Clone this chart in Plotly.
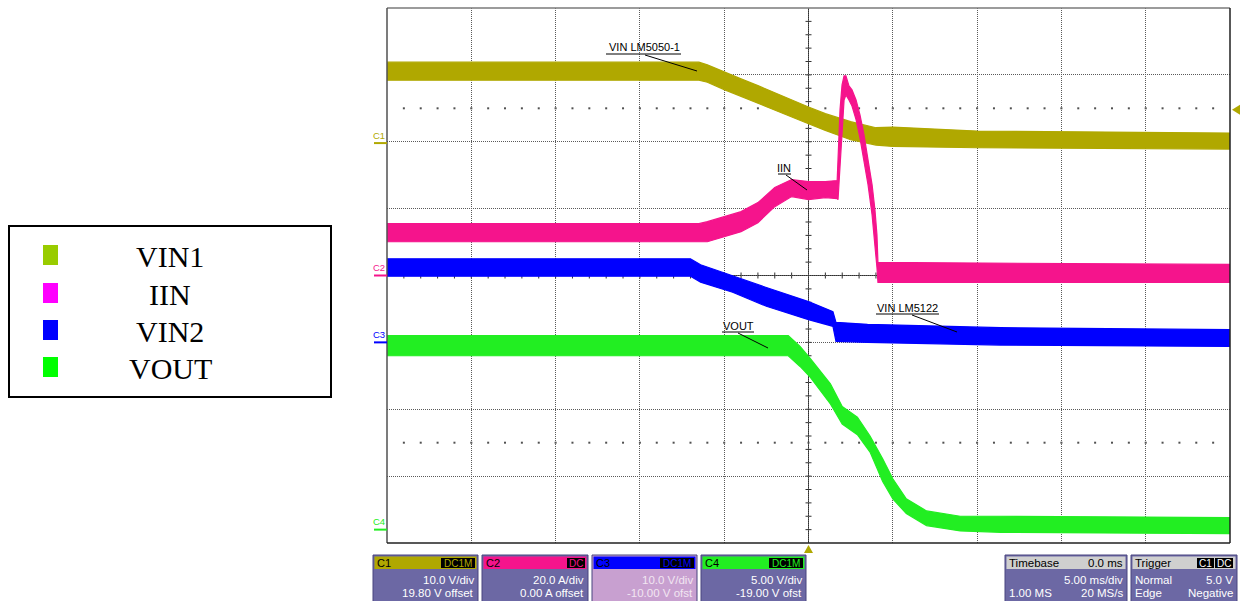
import plotly.graph_objects as go

# ---------------- data ----------------
# time in ms relative to the trigger (5 ms/div); each trace is an envelope band (hi / lo)
vin1_t  = [-25, -6.5, -6.0, -5.0, -4.0, -3.0, -2.0, -1.0, 0.0, 1.0, 1.7, 2.5, 4.0, 5.0, 10.0, 25]
vin1_hi = [12.1, 12.1, 11.7, 10.6, 9.6, 8.6, 7.5, 6.5, 5.4, 4.4, 3.8, 3.2, 2.3, 2.4, 1.8, 1.5]
vin1_lo = [9.4, 9.4, 9.1, 8.0, 7.0, 6.0, 4.9, 3.9, 2.9, 1.9, 1.2, 0.5, -0.3, -0.5, -0.7, -0.9]

iin_t  = [-25, -6.5, -6.0, -5.0, -4.0, -3.0, -2.0, -1.0, 0.0, 1.0, 1.7, 1.75, 1.87, 1.99, 2.11,
          2.22, 2.40, 2.58, 2.82, 3.05, 3.29, 3.53, 3.77, 3.94, 4.06, 4.12, 25]
iin_hi = [15.5, 15.5, 16.1, 17.6, 19.1, 21.8, 26.3, 28.7, 28.1, 28.1, 28.4, 34.6, 49.6, 57.0, 59.7,
          59.7, 56.7, 55.5, 52.5, 48.1, 42.1, 34.6, 27.2, 19.7, 12.2, 3.9, 3.3]
iin_lo = [10.1, 10.1, 10.1, 11.6, 13.1, 15.8, 20.6, 23.6, 22.7, 23.3, 23.0, 22.7, 31.6, 43.6, 52.5,
          54.0, 52.5, 50.7, 46.6, 41.2, 34.6, 27.2, 18.2, 9.3, 2.4, -2.1, -2.1]

vin2_t  = [-25, -7.0, -6.4, -4.5, -2.5, 0.0, 1.45, 1.63, 3.5, 11.4, 25]
vin2_hi = [12.5, 12.5, 11.6, 9.9, 8.2, 6.1, 4.6, 3.0, 2.7, 2.2, 1.9]
vin2_lo = [9.9, 9.9, 9.0, 7.5, 5.4, 3.4, 2.4, 0.15, 0.0, -0.4, -0.6]

vout_t  = [-25, -1.2, -0.5, 0.1, 1.3, 2.0, 2.9, 3.65, 4.4, 5.0, 5.8, 7.0, 9.0, 11.4, 25]
vout_hi = [14.5, 14.5, 13.7, 12.8, 10.9, 9.2, 8.4, 7.0, 5.3, 3.8, 2.3, 1.4, 1.0, 1.0, 0.9]
vout_lo = [13.0, 13.0, 12.2, 11.4, 9.4, 7.9, 7.1, 5.8, 3.6, 2.3, 1.2, 0.3, -0.1, -0.2, -0.3]

channels      = ["C1", "C2", "C3", "C4"]
ch_scale      = [10.0, 20.0, 10.0, 5.0]          # units / division
ch_offset     = [19.80, 0.00, -10.00, -19.00]
ch_scale_txt  = ["10.0 V/div", "20.0 A/div", "10.0 V/div", "5.00 V/div"]
ch_offset_txt = ["19.80 V offset", "0.00 A offset", "-10.00 V ofst", "-19.00 V ofst"]
ch_coupling   = ["DC1M", "DC", "DC1M", "DC1M"]
legend_names  = ["VIN1", "IIN", "VIN2", "VOUT"]
trace_labels  = ["VIN LM5050-1", "IIN", "VIN LM5122", "VOUT"]
timebase_txt  = ["Timebase", "0.0 ms", "5.00 ms/div", "1.00 MS", "20 MS/s"]
trigger_txt   = ["Trigger", "Normal", "5.0 V", "Edge", "Negative"]
trigger_src   = ["C1", "DC"]
ms_per_div    = 5.0
trigger_level = 5.0   # V on C1

series = [(vin1_t, vin1_hi, vin1_lo), (iin_t, iin_hi, iin_lo),
          (vin2_t, vin2_hi, vin2_lo), (vout_t, vout_hi, vout_lo)]

# ---------------- styling ----------------
trace_colors  = ["#B0A800", "#F5148C", "#0000FF", "#22EE22"]
legend_colors = ["#99CC00", "#FF00FF", "#0000FF", "#00FF00"]
body_col = "#6C68A4"
edge_col = "#48447E"

W, H = 1242, 601
L, R, T, B = 387, 1230, 8, 543


def px(x):
    return (x - L) / (R - L)


def py(y):
    return (B - y) / (B - T)


shapes, annos = [], []


def line(x0, y0, x1, y1, color, width=1, dash=None, layer="above"):
    d = dict(color=color, width=width)
    if dash:
        d["dash"] = dash
    shapes.append(dict(type="line", xref="paper", yref="paper", x0=px(x0), y0=py(y0),
                       x1=px(x1), y1=py(y1), line=d, layer=layer))


def rect(x0, y0, x1, y1, fill, lc=None, lw=0, layer="above"):
    shapes.append(dict(type="rect", xref="paper", yref="paper", x0=px(x0), y0=py(y0),
                       x1=px(x1), y1=py(y1), fillcolor=fill,
                       line=dict(color=lc or fill, width=lw), layer=layer))


def poly(pts, fill):
    path = "M " + " L ".join(f"{px(a):.5f},{py(b):.5f}" for a, b in pts) + " Z"
    shapes.append(dict(type="path", xref="paper", yref="paper", path=path,
                       fillcolor=fill, line=dict(color=fill, width=0), layer="above"))


def text(x, y, s, size, color, anchor="center", family="Liberation Sans, Arial"):
    annos.append(dict(xref="paper", yref="paper", x=px(x), y=py(y), text=s, showarrow=False,
                      xanchor=anchor, yanchor="middle", borderpad=0,
                      font=dict(size=size, color=color, family=family)))


fig = go.Figure()

# minor dot rows (±2.5 div) on the C1 scale
dot_x, dot_y = [], []
for k in range(-24, 25):
    for d in (2.5, -2.5):
        dot_x.append(k * ms_per_div / 5)
        dot_y.append(d * ch_scale[0] - ch_offset[0])
fig.add_trace(go.Scatter(x=dot_x, y=dot_y, mode="markers", yaxis="y",
                         marker=dict(size=2, color="#505050", symbol="square"),
                         hoverinfo="skip", showlegend=False))

yaxes = ["y", "y2", "y3", "y4"]
for i, (t, hi, lo) in enumerate(series):
    fig.add_trace(go.Scatter(x=list(t) + list(t)[::-1], y=list(hi) + list(lo)[::-1],
                             mode="lines", fill="toself", fillcolor=trace_colors[i],
                             line=dict(color=trace_colors[i], width=1.2),
                             yaxis=yaxes[i], name=legend_names[i],
                             hoverinfo="skip", showlegend=False))

# centre cross and its ticks
line(L + (R - L) / 2, T, L + (R - L) / 2, B, "#303030", 1, layer="between")
line(L, (T + B) / 2, R, (T + B) / 2, "#303030", 1, layer="between")
cx, cy = L + (R - L) / 2, (T + B) / 2
for k in range(-24, 25):
    if k == 0:
        continue
    xx = cx + k * (R - L) / 50
    line(xx, cy - 3, xx, cy + 3, "#303030", 1, layer="between")
for j in range(-19, 20):
    if j == 0:
        continue
    yy = cy + j * (B - T) / 40
    line(cx - 3, yy, cx + 3, yy, "#303030", 1, layer="between")

# frame
line(L, T, R, T, "#7A7A7A", 1.5)
line(L, T, L, B, "#505050", 1.5)
line(R, T, R, B, "#202020", 1.5)
line(L, B, R, B, "#202020", 1.5)

# channel ground markers
for i in range(4):
    ground_div = ch_offset[i] / ch_scale[i]
    yy = cy - ground_div * (B - T) / 8
    line(374, yy, L, yy, trace_colors[i], 2)
    text(379, yy - 8, channels[i], 9.5, trace_colors[i])

# trigger markers
trig_div = (trigger_level + ch_offset[0]) / ch_scale[0]
ty = cy - trig_div * (B - T) / 8
poly([(1232, ty), (1240, ty - 5), (1240, ty + 5)], trace_colors[0])
poly([(cx, 545), (cx - 4.5, 553), (cx + 4.5, 553)], trace_colors[0])

# trace labels with underline and leader
lab_geo = [((644, 47), (606, 681, 54), (645, 55, 697, 71)),
           ((784, 168), (778, 791, 174), (786, 175, 807, 190)),
           ((907, 308), (876, 939, 314), (912, 315, 957, 332)),
           ((738, 326), (722, 754, 332), (738, 333, 768, 348))]
for s, ((tx, tyy), (u0, u1, uy), (a0, b0, a1, b1)) in zip(trace_labels, lab_geo):
    text(tx, tyy, s, 11, "#000000")
    line(u0, uy, u1, uy, "#000000", 1)
    line(a0, b0, a1, b1, "#000000", 1)

# left legend box
rect(9, 226, 331, 397, "rgba(0,0,0,0)", "#000000", 2)
leg_y = [255, 293, 330, 367]
for i, nm in enumerate(legend_names):
    rect(43, leg_y[i] - 10, 58, leg_y[i] + 10, legend_colors[i])
    text(170, leg_y[i] + 1, nm, 30, "#000000", family="Liberation Serif, Times New Roman")

# bottom channel boxes
box_x = [(373, 478), (482, 588), (592, 697), (701, 806)]
cpl_w = {"DC1M": 34, "DC": 18}
for i, (x0, x1) in enumerate(box_x):
    body = "#C8A0D0" if i == 2 else body_col
    tcol = "#F2E6F2" if i == 2 else "#FFFFFF"
    rect(x0, 555, x1, 603, body, edge_col, 1)
    rect(x0 + 1.5, 556.5, x1 - 1.5, 569, trace_colors[i])
    text(x0 + 3, 562.5, channels[i], 11, "#000000", anchor="left")
    w = cpl_w[ch_coupling[i]]
    rect(x1 - 3 - w, 558, x1 - 3, 568, "#000000")
    text(x1 - 3 - w / 2, 563, ch_coupling[i], 10, trace_colors[i])
    text(x1 - 3, 580, ch_scale_txt[i], 11.5, tcol, anchor="right")
    text(x1 - 3, 593, ch_offset_txt[i], 11.5, tcol, anchor="right")

# timebase box
x0, x1 = 1005, 1127
rect(x0, 555, x1, 603, body_col, edge_col, 1)
rect(x0 + 1.5, 556.5, x1 - 1.5, 569, "#CFCFCF")
text(x0 + 3, 563, timebase_txt[0], 11.5, "#000000", anchor="left")
text(x1 - 3, 563, timebase_txt[1], 11.5, "#000000", anchor="right")
text(x1 - 3, 580, timebase_txt[2], 11.5, "#FFFFFF", anchor="right")
text(x0 + 3, 593, timebase_txt[3], 11.5, "#FFFFFF", anchor="left")
text(x1 - 3, 593, timebase_txt[4], 11.5, "#FFFFFF", anchor="right")

# trigger box
x0, x1 = 1131, 1237
rect(x0, 555, x1, 603, body_col, edge_col, 1)
rect(x0 + 1.5, 556.5, x1 - 1.5, 569, "#CFCFCF")
text(x0 + 3, 563, trigger_txt[0], 11.5, "#000000", anchor="left")
rect(1197, 558, 1214, 568, "#000000")
rect(1215, 558, 1233, 568, "#000000")
text(1205.5, 563, trigger_src[0], 10, "#FFFFFF")
text(1224, 563, trigger_src[1], 10, "#FFFFFF")
text(x0 + 3, 580, trigger_txt[1], 11.5, "#FFFFFF", anchor="left")
text(x1 - 3, 580, trigger_txt[2], 11.5, "#FFFFFF", anchor="right")
text(x0 + 3, 593, trigger_txt[3], 11.5, "#FFFFFF", anchor="left")
text(x1 - 3, 593, trigger_txt[4], 11.5, "#FFFFFF", anchor="right")

grid = dict(showgrid=True, gridcolor="#5A5A5A", gridwidth=1, griddash="1px,1px",
            showticklabels=False, ticks="", zeroline=False, showline=False, fixedrange=True)


def yrange(i):
    return [-4 * ch_scale[i] - ch_offset[i], 4 * ch_scale[i] - ch_offset[i]]


fig.update_layout(
    width=W, height=H,
    margin=dict(l=L, r=W - R, t=T, b=H - B, pad=0),
    paper_bgcolor="#FFFFFF", plot_bgcolor="#FFFFFF",
    showlegend=False,
    xaxis=dict(range=[-5 * ms_per_div, 5 * ms_per_div], tick0=0, dtick=ms_per_div, **grid),
    yaxis=dict(range=yrange(0), tick0=-ch_offset[0], dtick=ch_scale[0], **grid),
    yaxis2=dict(range=yrange(1), overlaying="y", visible=False, fixedrange=True),
    yaxis3=dict(range=yrange(2), overlaying="y", visible=False, fixedrange=True),
    yaxis4=dict(range=yrange(3), overlaying="y", visible=False, fixedrange=True),
    shapes=shapes, annotations=annos,
)

fig.write_html("out.html", config={"displayModeBar": False},
               post_script="document.body.style.margin='0';document.body.style.overflow='hidden';")
